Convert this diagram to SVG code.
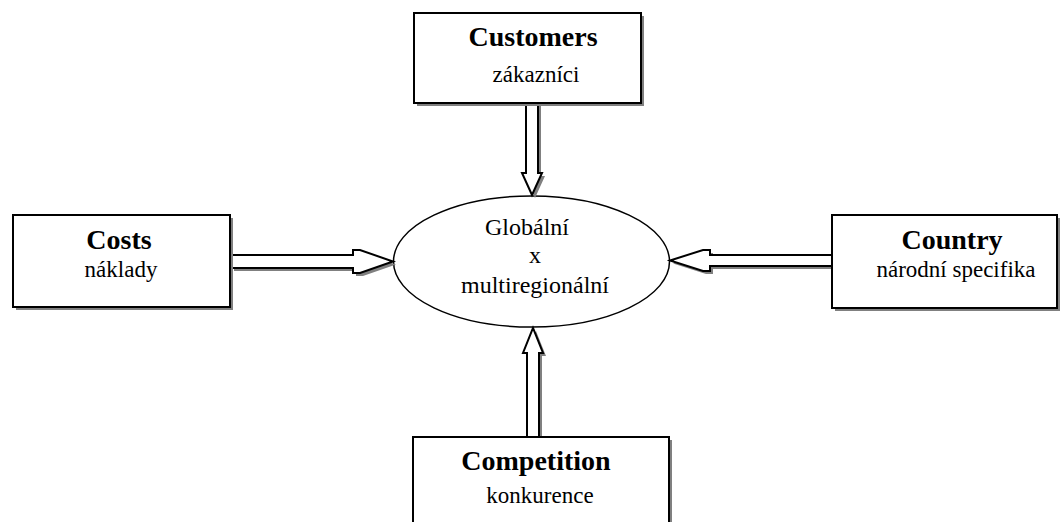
<svg xmlns="http://www.w3.org/2000/svg" width="1061" height="522" viewBox="0 0 1061 522">
<style>
.box{fill:#fff;stroke:#000;stroke-width:2}
.sh{fill:#808080;stroke:none}
.arr{fill:#fff;stroke:#000;stroke-width:2;stroke-linejoin:miter}
.title{font-family:"Liberation Serif","Times New Roman",serif;font-weight:bold;font-size:28px;text-anchor:middle;fill:#000}
.sub{font-family:"Liberation Serif","Times New Roman",serif;font-size:23px;text-anchor:middle;fill:#000}
.mid{font-family:"Liberation Serif","Times New Roman",serif;font-size:24px;text-anchor:middle;fill:#000}
</style>
<rect width="1061" height="522" fill="#fff"/>
<g id="center">
<ellipse cx="531.5" cy="261.5" rx="138" ry="65.5" fill="#fff" stroke="#000" stroke-width="1.5"/>
<text class="mid" x="527" y="235">Globální</text>
<text class="mid" x="535" y="263">x</text>
<text class="mid" x="535" y="293">multiregionální</text>
</g>
<g id="connectors">
<g transform="translate(3,3)">
<polygon class="sh" points="526,103 538,103 538,173 542,173 532,195 522,173 526,173"/>
<polygon class="sh" points="231,255 353,255 353,250 360,250 393,261.5 360,273 353,273 353,268 231,268"/>
<polygon class="sh" points="832,255 710,255 710,250 703,250 670,260.5 703,271 710,271 710,266 832,266"/>
<polygon class="sh" points="527,437 539,437 539,353 543,353 533,328 523,353 527,353"/>
</g>
<polygon class="arr" points="526,103 538,103 538,173 542,173 532,195 522,173 526,173"/>
<polygon class="arr" points="231,255 353,255 353,250 360,250 393,261.5 360,273 353,273 353,268 231,268"/>
<polygon class="arr" points="832,255 710,255 710,250 703,250 670,260.5 703,271 710,271 710,266 832,266"/>
<polygon class="arr" points="527,437 539,437 539,353 543,353 533,328 523,353 527,353"/>
</g>
<g id="customers">
<rect class="sh" x="417" y="16" width="227" height="90"/>
<rect class="box" x="414" y="13" width="227" height="90"/>
<text class="title" x="533" y="46">Customers</text>
<text class="sub" x="536" y="82">zákazníci</text>
</g>
<g id="costs">
<rect class="sh" x="16" y="218" width="217" height="92"/>
<rect class="box" x="13" y="215" width="217" height="92"/>
<text class="title" x="119" y="249">Costs</text>
<text class="sub" x="121" y="277">náklady</text>
</g>
<g id="country">
<rect class="sh" x="835" y="218" width="225" height="93"/>
<rect class="box" x="832" y="215" width="225" height="93"/>
<text class="title" x="952" y="249">Country</text>
<text class="sub" x="956" y="277">národní specifika</text>
</g>
<g id="competition">
<rect class="sh" x="416" y="440" width="256" height="100"/>
<rect class="box" x="413" y="437" width="256" height="100"/>
<text class="title" x="536" y="470">Competition</text>
<text class="sub" x="540" y="503">konkurence</text>
</g>
</svg>
